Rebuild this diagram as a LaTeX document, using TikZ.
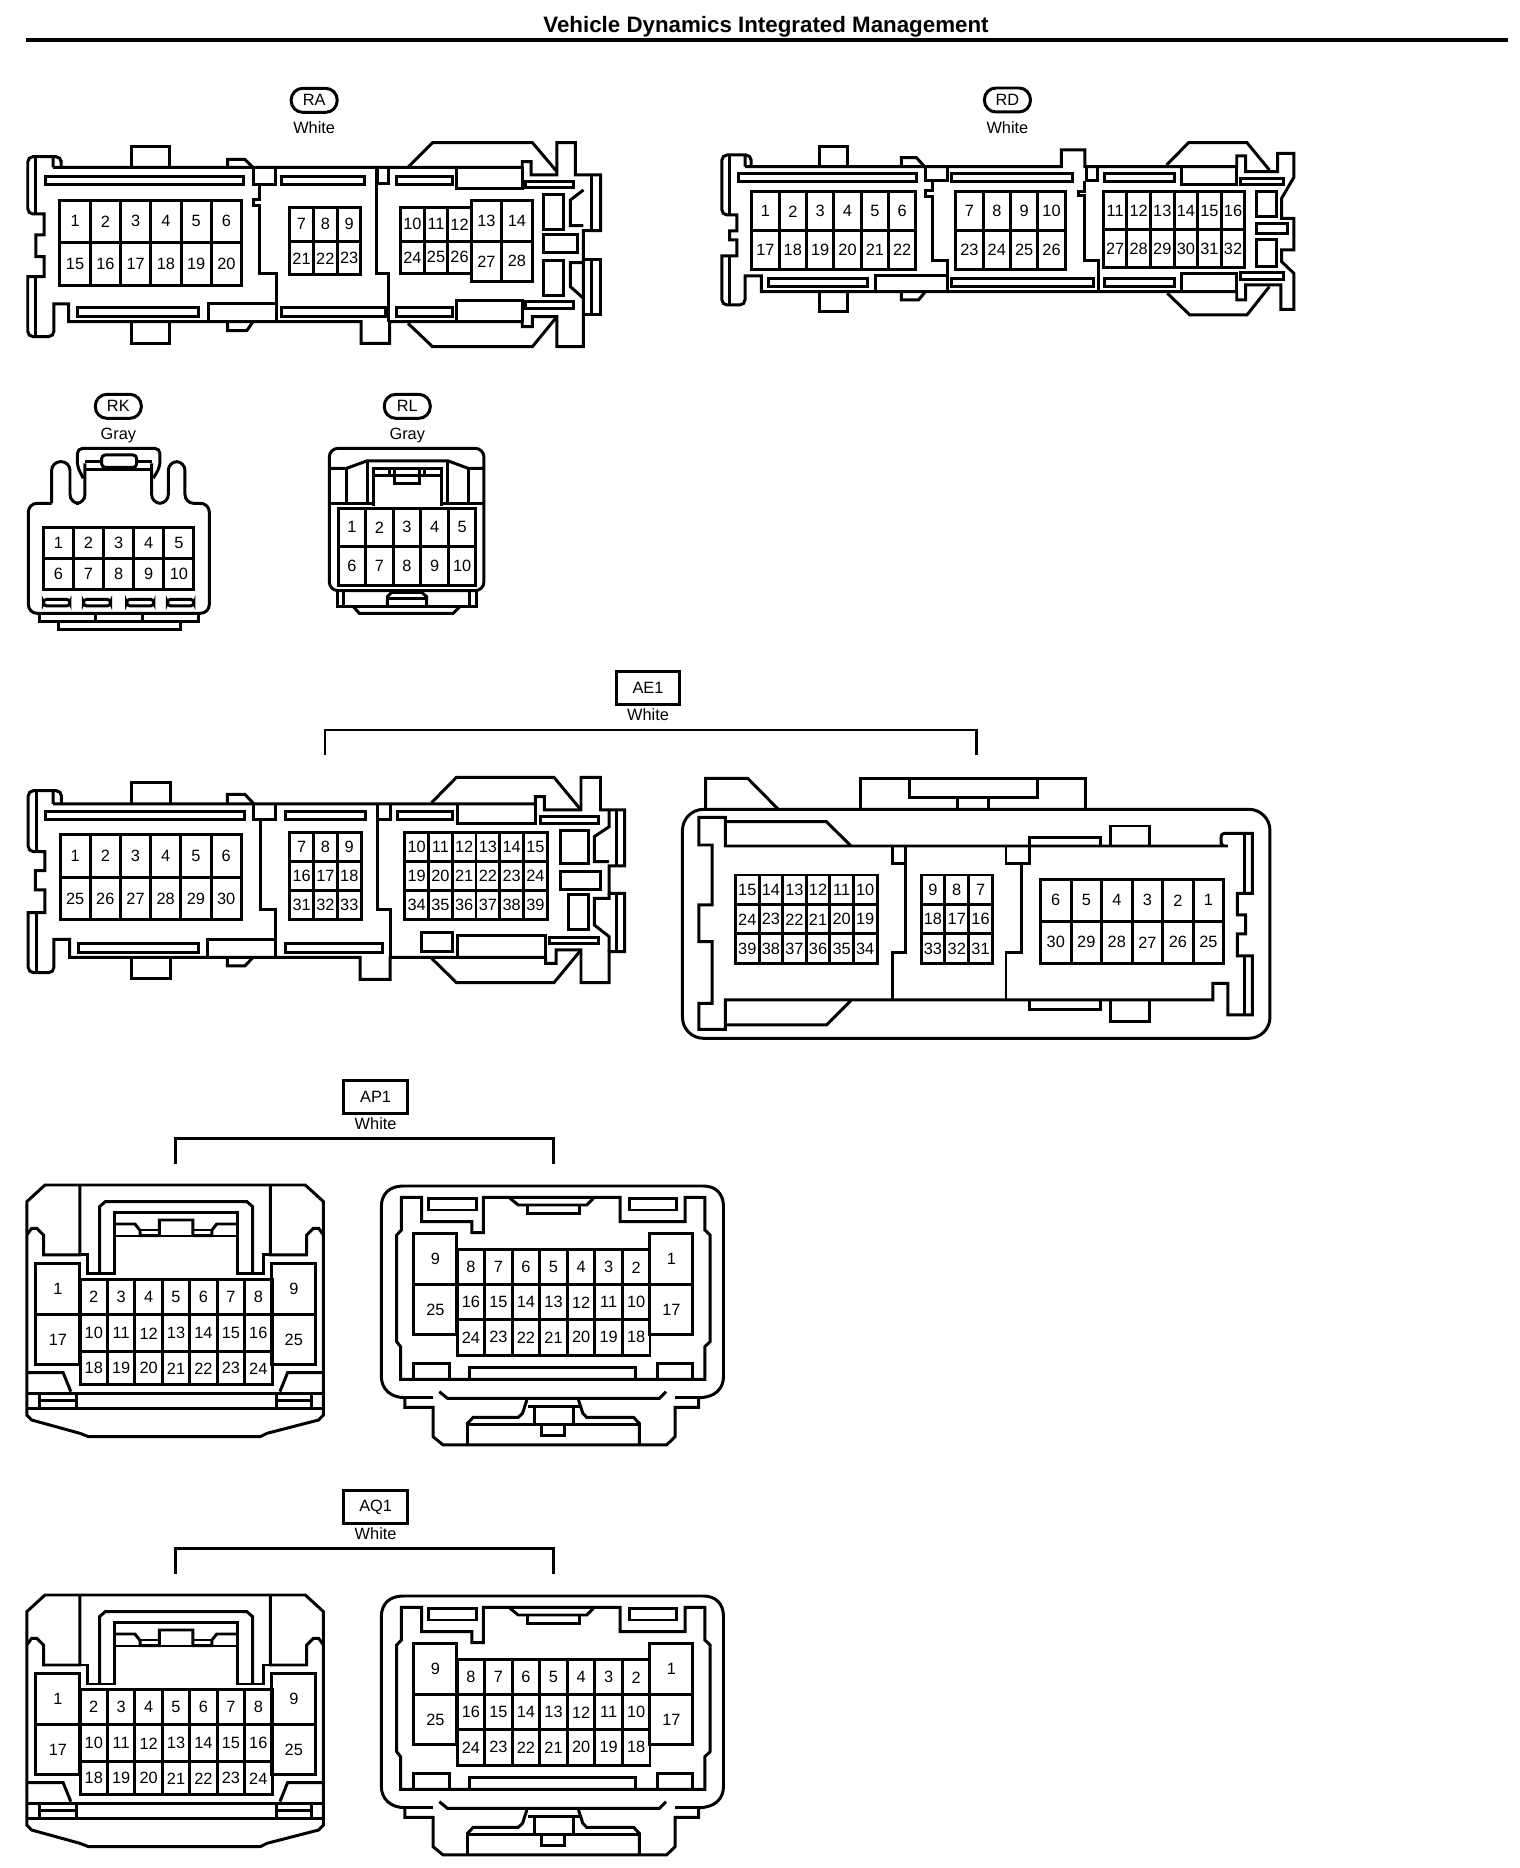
\documentclass[tikz,border=0pt]{standalone}
\usepackage{fontspec}
\setmainfont{Liberation Sans}
\tikzset{
  pin/.style={draw, rectangle, inner sep=0pt, outer sep=0pt, font=\fontsize{9.3}{10}\selectfont},
  tagoval/.style={draw, rectangle, rounded corners=.23cm, minimum width=.92cm, minimum height=.48cm, inner sep=0pt, font=\fontsize{9.3}{10}\selectfont},
  tagbox/.style={draw, rectangle, minimum width=1.27cm, minimum height=.66cm, inner sep=0pt, font=\fontsize{9.3}{10}\selectfont},
  colourtext/.style={inner sep=0pt, font=\fontsize{9.3}{10}\selectfont},
  zoomed/.style={xscale=\zx, yscale=\zy}
}
% one row of pins: prefix, first centre x, centre y, cell width, cell height, labels
\newcommand{\pinrow}[6]{
  \foreach \n [count=\i from 0] in {#6} {
    \node[pin, minimum width=#4*\zx*.02cm, minimum height=#5*\zy*.02cm] (#1\n) at (#2+\i*#4,#3) {\n};
  }
}
% left and right half of the AP1 and AQ1 pairs
\newcommand{\pairconn}[1]{
  \draw (56,425) -- (94,375) -- (638,375) -- (676,425) -- (676,1065) -- (666,1080) -- (558,1120) -- (544,1130) -- (185,1130) -- (167,1120) -- (66,1080) -- (56,1065) -- cycle;
  \draw (167,375) -- (167,585) -- (91,585) -- (91,525) -- (77,505) -- (66,505) -- (56,525);
  \draw (565,375) -- (565,585) -- (641,585) -- (641,525) -- (655,505) -- (666,505) -- (676,525);
  \draw (167,585) -- (183,585) -- (183,642) -- (240,642) -- (240,458) -- (496,458) -- (496,642) -- (551,642) -- (551,585) -- (565,585);
  \draw (208,640) -- (208,440) -- (220,425) -- (516,425) -- (528,440) -- (528,640);
  \draw (240,492) -- (282,492) -- (293,512) -- (293,527) -- (333,527) -- (333,480) -- (403,480) -- (403,527) -- (443,527) -- (443,510) -- (453,492) -- (496,492);
  \draw (240,528) -- (496,528);
  \draw (293,510) -- (333,510) (403,510) -- (443,510);
  \pinrow{#1la}{196}{711}{57.3}{107}{2,3,4,5,6,7,8}
  \pinrow{#1lb}{196}{820}{57.3}{110}{10,11,12,13,14,15,16}
  \pinrow{#1lc}{196}{925}{57.3}{100}{18,19,20,21,22,23,24}
  \pinrow{#1ld}{121}{687}{92}{155}{1}
  \pinrow{#1le}{121}{840}{92}{150}{17}
  \pinrow{#1lf}{614}{687}{92}{155}{9}
  \pinrow{#1lg}{614}{840}{92}{150}{25}
  \draw (59,938) -- (132,938) -- (148,995);
  \draw (676,938) -- (601,938) -- (585,995);
  \draw (56,1000) -- (676,1000);
  \draw (56,1045) -- (676,1045);
  \draw (82,1000) -- (82,1045) (159,1000) -- (159,1045) (82,1022) -- (159,1022);
  \draw (577,1000) -- (577,1045) (652,1000) -- (652,1045) (577,1022) -- (652,1022);
  % right half
  \draw (797,440) .. controls (797,400) and (815,378) .. (843,378) -- (1470,378) .. controls (1495,378) and (1512,400) .. (1512,440) -- (1512,950) .. controls (1512,985) and (1495,1013) .. (1460,1013) -- (1460,1042) -- (1411,1042) -- (1411,1130) -- (1393,1155) -- (926,1155) -- (905,1130) -- (905,1042) -- (846,1042) -- (846,1013) .. controls (815,1013) and (797,985) .. (797,950) -- cycle;
  \draw (846,1013) -- (905,1013) (1411,1013) -- (1460,1013);
  \draw (837,958) -- (837,860) -- (829,845) -- (829,525) -- (839,510) -- (839,412) -- (881,412) -- (881,485) -- (986,485) -- (986,518) -- (1010,518) -- (1010,412) -- (1296,412) -- (1296,485) -- (1432,485) -- (1432,412) -- (1473,412) -- (1473,510) -- (1484,525) -- (1484,845) -- (1473,860) -- (1473,958) -- cycle;
  \draw (895,415) rectangle (995,450);
  \draw (1315,415) rectangle (1414,450);
  \draw (1066,415) -- (1083,435) -- (1226,435) -- (1240,415);
  \draw (1102,435) -- (1102,460) -- (1211,460) -- (1211,435);
  \pinrow{#1ra}{984}{622}{57.6}{105}{8,7,6,5,4,3,2}
  \pinrow{#1rb}{984}{727}{57.6}{105}{16,15,14,13,12,11,10}
  \pinrow{#1rc}{984}{832}{57.6}{108}{24,23,22,21,20,19,18}
  \pinrow{#1rd}{910}{597}{90}{155}{9}
  \pinrow{#1re}{910}{750}{90}{150}{25}
  \pinrow{#1rf}{1403}{597}{90}{155}{1}
  \pinrow{#1rg}{1403}{750}{90}{150}{17}
  \draw (864,958) -- (864,912) -- (939,912) -- (939,958);
  \draw (1374,958) -- (1374,912) -- (1448,912) -- (1448,958);
  \draw (981,958) -- (981,922) -- (1329,922) -- (1329,958);
  \draw (918,995) -- (935,1015) -- (1378,1015) -- (1392,995);
  \draw (1101,1020) -- (1092,1060) -- (1083,1072) -- (989,1072) -- (977,1090) -- (977,1155);
  \draw (1209,1020) -- (1218,1060) -- (1226,1072) -- (1324,1072) -- (1336,1090) -- (1336,1155);
  \draw (977,1095) -- (1336,1095);
  \draw (1118,1040) -- (1118,1095) (1198,1040) -- (1198,1095);
  \draw (1104,1040) -- (1212,1040);
  \draw (1132,1095) -- (1132,1128) -- (1179,1128) -- (1179,1095);
}
\begin{document}
\begin{tikzpicture}[x=.02cm, y=-.02cm, line width=1.7pt]
\useasboundingbox (0,0) rectangle (1520,1868);
\node[inner sep=0pt, font=\fontsize{12.7}{14}\selectfont\bfseries] (title) at (766,27) {Vehicle Dynamics Integrated Management};
\coordinate (ruleL) at (26,40);
\coordinate (ruleR) at (1508,40);
\draw[line width=2pt] (ruleL) -- (ruleR);

% RA
\def\zx{.408}\def\zy{.3333}
\begin{scope}[shift={(0,60)}, zoomed]
\node[tagoval] (ra) at (770,121) {RA};
\node[colourtext] (racol) at (770,202) {White};
\draw (130,322) -- (130,290) (150,322) -- (150,300) [rounded corners=3pt] -- (150,290) -- (68,290) -- (68,462) [sharp corners] -- (108,462) -- (108,525) -- (88,525) -- (88,590) -- (108,590) -- (108,650) -- (68,650) [rounded corners=3pt] -- (68,830) -- (132,830) [sharp corners] -- (132,732) -- (168,732) -- (168,785) -- (885,785) -- (885,850) -- (955,850) -- (955,785) -- (1280,785) -- (1280,800) -- (1305,800) -- (1305,770) -- (1365,770) -- (1365,860) -- (1430,860) -- (1430,512) -- (1472,512) -- (1472,345) -- (1410,345) -- (1410,248) -- (1365,248) -- (1365,345) -- (1302,345) -- (1302,305) -- (1280,305) -- (1280,322) -- (130,322);
\draw (88,290) -- (88,462) (88,650) -- (88,830);
\draw (322,322) -- (322,260) -- (416,260) -- (416,322);
\draw (322,785) -- (322,850) -- (416,850) -- (416,785);
\draw (558,322) -- (558,298) -- (600,298) -- (620,322);
\draw (558,785) -- (558,812) -- (605,812) -- (620,785);
\draw (112,350) rectangle (598,375);
\draw (190,742) rectangle (487,770);
\draw (690,350) rectangle (893,375);
\draw (690,742) rectangle (945,770);
\draw (972,350) rectangle (1108,375);
\draw (972,742) rectangle (1108,770);
\draw (622,322) -- (622,375) -- (675,375) -- (675,322);
\draw (635,375) -- (635,418) -- (622,418) -- (622,438) -- (635,438) -- (635,640) -- (678,640) -- (678,785);
\draw (510,785) -- (510,732) -- (678,732);
\draw (925,322) -- (925,372) -- (952,372) -- (952,322);
\draw (922,322) -- (922,640) -- (952,640) -- (952,785);
\draw (1120,322) -- (1120,385) -- (1280,385) -- (1280,322);
\draw (1120,785) -- (1120,722) -- (1280,722) -- (1280,785);
\draw (1000,322) -- (1060,248) -- (1305,248) -- (1365,335);
\draw (1000,790) -- (1060,860) -- (1305,860) -- (1365,770);
\draw (1288,365) rectangle (1405,382);
\draw (1288,725) rectangle (1405,745);
\draw (1332,403) rectangle (1382,508);
\draw (1332,525) rectangle (1415,578);
\draw (1332,602) rectangle (1382,706);
\draw (1450,345) -- (1450,512);
\draw (1430,390) -- (1398,420) -- (1398,497) -- (1430,497);
\draw (1430,600) -- (1472,600) -- (1472,765) -- (1430,765) (1450,600) -- (1450,765);
\draw (1430,608) -- (1398,608) -- (1398,680) -- (1430,715);
\pinrow{raa}{184}{484}{74.2}{125}{1,2,3,4,5,6}
\pinrow{rab}{184}{611}{74.2}{129}{15,16,17,18,19,20}
\pinrow{rac}{739}{493}{58.3}{103}{7,8,9}
\pinrow{rad}{739}{595}{58.3}{100}{21,22,23}
\pinrow{rae}{1011}{493}{57.7}{103}{10,11,12}
\pinrow{raf}{1011}{592}{57.7}{95}{24,25,26}
\pinrow{rag}{1192}{483}{75}{123}{13,14}
\pinrow{rah}{1192}{604}{75}{119}{27,28}
\end{scope}

% RD
\begin{scope}[shift={(690,70)}, zoomed]
\node[tagoval] (rd) at (778,90) {RD};
\node[colourtext] (rdcol) at (778,172) {White};
\draw (135,290) -- (135,255) (150,290) [rounded corners=3pt] -- (150,255) -- (78,255) -- (78,435) [sharp corners] -- (115,435) -- (115,483) -- (97,483) -- (97,510) -- (115,510) -- (115,558) -- (78,558) [rounded corners=3pt] -- (78,705) -- (135,705) [sharp corners] -- (135,618) -- (175,618) -- (175,665) -- (1340,665) -- (1340,690) -- (1362,690) -- (1362,645) -- (1448,645) -- (1448,718) -- (1480,718) -- (1480,610) -- (1450,575) -- (1450,540) -- (1480,540) -- (1480,445) -- (1450,445) -- (1450,385) -- (1480,322) -- (1480,250) -- (1440,250) -- (1440,305) -- (1362,305) -- (1362,258) -- (1340,258) -- (1340,290) -- (968,290) -- (968,240) -- (910,240) -- (910,290) -- (135,290);
\draw (97,255) -- (97,435) (97,558) -- (97,705);
\draw (318,290) -- (318,230) -- (385,230) -- (385,290);
\draw (318,665) -- (318,725) -- (385,725) -- (385,665);
\draw (518,290) -- (518,263) -- (555,263) -- (575,290);
\draw (518,668) -- (518,690) -- (560,690) -- (575,668);
\draw (1168,285) -- (1222,218) -- (1365,218) -- (1420,300);
\draw (1170,670) -- (1225,735) -- (1365,735) -- (1420,650);
\draw (118,310) rectangle (555,335);
\draw (192,625) rectangle (435,650);
\draw (640,310) rectangle (938,335);
\draw (640,625) rectangle (988,650);
\draw (1015,310) rectangle (1188,335);
\draw (1015,625) rectangle (1188,650);
\draw (1205,290) -- (1205,345) -- (1340,345) -- (1340,290);
\draw (1205,665) -- (1205,610) -- (1340,610) -- (1340,665);
\draw (1350,325) rectangle (1455,345);
\draw (1350,608) rectangle (1455,628);
\draw (1388,365) rectangle (1438,440);
\draw (1388,462) rectangle (1465,490);
\draw (1388,508) rectangle (1438,590);
\draw (578,290) -- (578,332) -- (632,332) -- (632,290);
\draw (595,332) -- (595,362) -- (578,362) -- (578,380) -- (595,380) -- (595,572) -- (632,572) -- (632,665);
\draw (455,665) -- (455,618) -- (632,618);
\draw (972,290) -- (972,332) -- (998,332) -- (998,290);
\draw (968,332) -- (968,365) -- (952,365) -- (952,378) -- (968,378) -- (968,572) -- (1000,572) -- (1000,665);
\pinrow{rda}{185}{424}{67}{117}{1,2,3,4,5,6}
\pinrow{rdb}{185}{540}{67}{116}{17,18,19,20,21,22}
\pinrow{rdc}{685}{424}{67}{117}{7,8,9,10}
\pinrow{rdd}{685}{540}{67}{116}{23,24,25,26}
\pinrow{rde}{1042}{422}{57.8}{115}{11,12,13,14,15,16}
\pinrow{rdf}{1042}{536}{57.8}{112}{27,28,29,30,31,32}
\end{scope}

% RK and RL
\def\zx{.3333}\def\zy{.3333}
\begin{scope}[shift={(0,380)}, zoomed]
\node[tagoval] (rk) at (355,79) {RK};
\node[colourtext] (rkcol) at (355,167) {Gray};
\draw[rounded corners=5pt] (155,370) -- (155,245) -- (210,245) -- (210,370) -- (255,370) -- (255,250);
\draw[rounded corners=5pt] (455,250) -- (455,370) -- (505,370) -- (505,245) -- (555,245) -- (555,370) -- (628,370) -- (628,700) -- (85,700) -- (85,370) -- (155,370);
\draw[rounded corners=3pt] (250,295) -- (232,260) -- (232,205) -- (480,205) -- (480,260) -- (460,295);
\draw (255,245) -- (305,245) (410,245) -- (455,245);
\draw (255,268) -- (455,268);
\draw[rounded corners=2pt] (305,225) rectangle (410,262);
\pinrow{rka}{175}{488}{90.4}{93}{1,2,3,4,5}
\pinrow{rkb}{175}{582}{90.4}{95}{6,7,8,9,10}
\draw[rounded corners=2pt] (130,658) rectangle (210,678);
\draw[rounded corners=2pt] (250,658) rectangle (332,678);
\draw[rounded corners=2pt] (380,658) rectangle (462,678);
\draw[rounded corners=2pt] (502,658) rectangle (582,678);
\draw (118,700) -- (118,725) -- (595,725) -- (595,700);
\draw (175,725) -- (175,750) -- (542,750) -- (542,725);
\draw (288,703) -- (288,725) (428,703) -- (428,725);
% RL
\node[tagoval] (rl) at (1222,79) {RL};
\node[colourtext] (rlcol) at (1222,167) {Gray};
\draw[rounded corners=5pt] (988,205) rectangle (1452,632);
\draw (988,265) -- (1040,265) -- (1100,243) -- (1345,243) -- (1405,265) -- (1452,265);
\draw (1040,265) -- (1040,368) (1405,265) -- (1405,368);
\draw (1103,243) -- (1103,368) (1342,243) -- (1342,368);
\draw (988,372) -- (1125,372) (1322,372) -- (1452,372);
\draw (1120,378) -- (1120,265) -- (1325,265) -- (1325,378);
\draw (1122,288) -- (1322,288);
\draw (1185,268) -- (1185,312) -- (1258,312) -- (1258,268);
\draw (1168,268) -- (1168,288) (1275,268) -- (1275,288);
\pinrow{rla}{1056}{442}{82.6}{115}{1,2,3,4,5}
\pinrow{rlb}{1056}{559}{82.6}{118}{6,7,8,9,10}
\draw (1012,632) -- (1012,680) -- (1430,680) -- (1430,632);
\draw (1032,635) -- (1032,678) (1410,635) -- (1410,678);
\draw (1162,680) -- (1162,650) -- (1175,637) -- (1265,637) -- (1280,650) -- (1280,680);
\draw (1165,655) -- (1280,655);
\draw (1060,680) -- (1078,700) -- (1360,700) -- (1380,680);
\end{scope}

% AE1
\node[tagbox] (ae) at (648,688) {AE1};
\node[colourtext] (aecol) at (648,715) {White};
\coordinate (aeL) at (325,755);
\coordinate (aeR) at (976,755);
\draw (aeL) -- ++(0,-25) -| (aeR);
\def\zx{.415}\def\zy{.3333}
\begin{scope}[shift={(0,660)}, zoomed]
\draw (128,432) -- (128,392) (148,432) [rounded corners=3pt] -- (148,392) -- (68,392) -- (68,575) [sharp corners] -- (108,575) -- (108,632) -- (85,632) -- (85,690) -- (108,690) -- (108,758) -- (68,758) [rounded corners=3pt] -- (68,938) -- (130,938) [sharp corners] -- (130,838) -- (168,838) -- (168,892) -- (868,892) -- (868,958) -- (940,958) -- (940,892) -- (1315,892) -- (1315,910) -- (1340,910) -- (1340,870) -- (1400,870) -- (1400,968) -- (1468,968) -- (1468,875) -- (1505,875) -- (1505,700) -- (1468,700) -- (1468,618) -- (1505,618) -- (1505,450) -- (1447,450) -- (1447,352) -- (1400,352) -- (1400,450) -- (1312,450) -- (1312,410) -- (1290,410) -- (1290,432) -- (128,432);
\draw (88,392) -- (88,575) (88,758) -- (88,938);
\draw (1485,450) -- (1485,618) (1485,700) -- (1485,875);
\draw (1468,450) -- (1468,500) -- (1432,530) -- (1432,605) -- (1468,605);
\draw (1468,700) -- (1468,715) -- (1432,715) -- (1432,795) -- (1468,830) -- (1468,875);
\draw (318,432) -- (318,368) -- (412,368) -- (412,432);
\draw (318,892) -- (318,955) -- (412,955) -- (412,892);
\draw (548,432) -- (548,403) -- (590,403) -- (612,432);
\draw (548,892) -- (548,918) -- (590,918) -- (610,892);
\draw (110,455) rectangle (588,480);
\draw (188,850) rectangle (478,878);
\draw (688,455) rectangle (880,480);
\draw (688,850) rectangle (922,878);
\draw (958,455) rectangle (1090,480);
\draw (612,432) -- (612,478) -- (665,478) -- (665,432);
\draw (628,478) -- (628,748) -- (665,748) -- (665,892);
\draw (500,892) -- (500,838) -- (665,838);
\draw (910,432) -- (910,748) -- (942,748) -- (942,892);
\draw (910,478) -- (940,478) -- (940,432);
\draw (1103,432) -- (1103,492) -- (1290,492) -- (1290,432);
\draw (1103,892) -- (1103,828) -- (1315,828) -- (1315,892);
\draw (1015,818) rectangle (1090,875);
\draw (1302,470) rectangle (1442,490);
\draw (1325,832) rectangle (1442,852);
\draw (1350,512) rectangle (1418,612);
\draw (1350,635) rectangle (1448,688);
\draw (1370,705) rectangle (1418,810);
\draw (1040,428) -- (1100,352) -- (1335,352) -- (1400,450);
\draw (1040,895) -- (1100,968) -- (1335,968) -- (1400,870);
\pinrow{aea}{181}{588}{72.8}{127}{1,2,3,4,5,6}
\pinrow{aeb}{181}{716}{72.8}{128}{25,26,27,28,29,30}
\pinrow{aec}{727}{561}{57.3}{87}{7,8,9}
\pinrow{aed}{727}{648}{57.3}{87}{16,17,18}
\pinrow{aee}{727}{736}{57.3}{88}{31,32,33}
\pinrow{aef}{1004}{561}{57.2}{87}{10,11,12,13,14,15}
\pinrow{aeg}{1004}{648}{57.2}{87}{19,20,21,22,23,24}
\pinrow{aeh}{1004}{736}{57.2}{88}{34,35,36,37,38,39}
\end{scope}
\def\zx{.408}\def\zy{.3333}
\begin{scope}[shift={(660,750)}, zoomed]
\draw[rounded corners=12pt] (55,178) rectangle (1495,865);
\draw (112,178) -- (112,85) -- (215,85) -- (290,178);
\draw (492,178) -- (492,85) -- (1042,85) -- (1042,178);
\draw (612,85) -- (612,142) -- (925,142) -- (925,85);
\draw (730,142) -- (730,178) (805,142) -- (805,178);
\draw (160,215) -- (408,215) -- (468,288);
\draw (160,825) -- (408,825) -- (468,752);
\draw (160,750) -- (1355,750) -- (1355,700) -- (1392,700) -- (1392,795) -- (1452,795) -- (1452,618) -- (1415,618) -- (1415,552) -- (1435,552) -- (1435,495) -- (1415,495) -- (1415,430) -- (1452,430) -- (1452,250) -- (1392,250) [rounded corners=2pt] -- (1375,250) -- (1375,288) [sharp corners] -- (1392,288) -- (160,288) -- (160,202) -- (95,202) -- (95,285) -- (128,285) -- (128,465) -- (95,465) -- (95,575) -- (128,575) -- (128,760) -- (95,760) -- (95,838) -- (160,838) -- cycle;
\draw (1432,250) -- (1432,430) (1432,618) -- (1432,795);
\draw (905,288) -- (905,262) -- (1080,262) -- (1080,288);
\draw (905,750) -- (905,778) -- (1080,778) -- (1080,750);
\draw (1105,288) -- (1105,228) -- (1200,228) -- (1200,288);
\draw (1105,750) -- (1105,815) -- (1200,815) -- (1200,750);
\draw (570,288) -- (570,340) -- (602,340) -- (602,288);
\draw (602,340) -- (602,608) -- (570,608) -- (570,750);
\draw (848,288) -- (848,340) -- (905,340) -- (905,288);
\draw (885,340) -- (885,608) -- (848,608) -- (848,750);
\pinrow{aei}{214}{420}{57.8}{90}{15,14,13,12,11,10}
\pinrow{aej}{214}{508}{57.8}{87}{24,23,22,21,20,19}
\pinrow{aek}{214}{596}{57.8}{88}{39,38,37,36,35,34}
\pinrow{ael}{669}{420}{58.3}{90}{9,8,7}
\pinrow{aem}{669}{508}{58.3}{87}{18,17,16}
\pinrow{aen}{669}{596}{58.3}{88}{33,32,31}
\pinrow{aeo}{970}{451}{74.8}{127}{6,5,4,3,2,1}
\pinrow{aep}{970}{577}{74.8}{125}{30,29,28,27,26,25}
\end{scope}

% AP1 and AQ1
\def\zx{.4785}\def\zy{.3333}
\begin{scope}[shift={(0,1060)}, zoomed]
\node[tagbox] (ap) at (785,111) {AP1};
\node[colourtext] (apcol) at (785,192) {White};
\coordinate (apL) at (367,312);
\coordinate (apR) at (1157,312);
\draw (apL) |- (785,236) -| (apR);
\pairconn{ap}
\end{scope}
\begin{scope}[shift={(0,1470)}, zoomed]
\node[tagbox] (aq) at (785,111) {AQ1};
\node[colourtext] (aqcol) at (785,192) {White};
\coordinate (aqL) at (367,312);
\coordinate (aqR) at (1157,312);
\draw (aqL) |- (785,236) -| (aqR);
\pairconn{aq}
\end{scope}
\end{tikzpicture}
\end{document}
